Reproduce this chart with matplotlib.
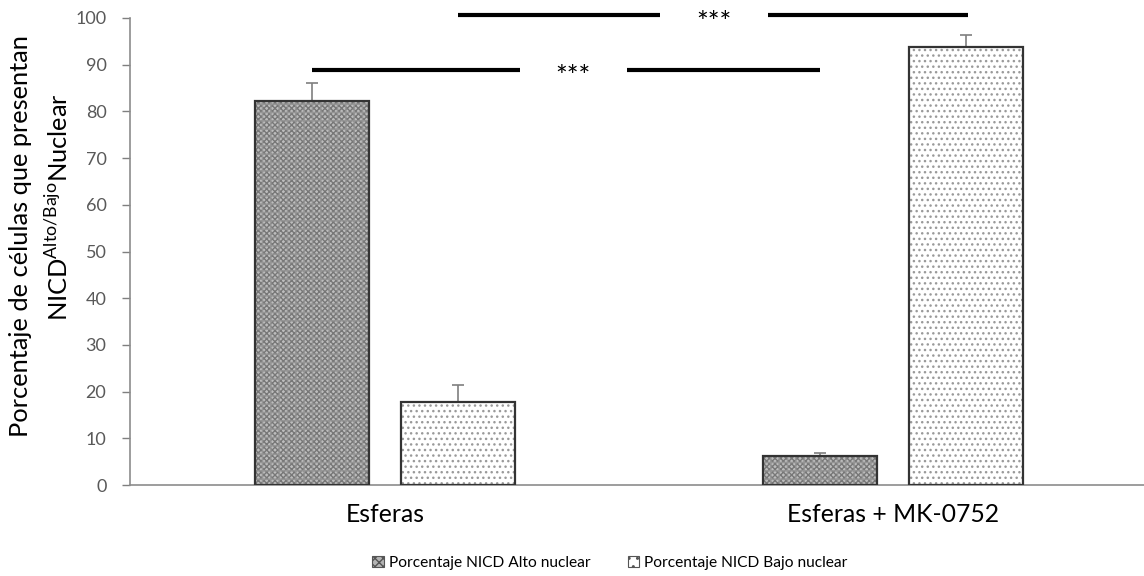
import matplotlib.pyplot as plt
from matplotlib.patches import Patch
import numpy as np

plt.rcParams['font.family'] = ['Lato', 'DejaVu Sans']
plt.rcParams['mathtext.fontset'] = 'custom'
plt.rcParams['mathtext.rm'] = 'Lato'
plt.rcParams['hatch.linewidth'] = 1.0

# Datos: porcentaje de células NICD alto / bajo nuclear
grupos = ["Esferas", "Esferas + MK-0752"]
alto = [82.3, 6.3]
alto_err = [3.7, 0.5]
bajo = [17.7, 93.7]
bajo_err = [3.8, 2.7]
series = ["Porcentaje NICD Alto nuclear", "Porcentaje NICD Bajo nuclear"]
y_ticks = [0, 10, 20, 30, 40, 50, 60, 70, 80, 90, 100]

fig = plt.figure(figsize=(11.44, 5.76), dpi=100)
ax = fig.add_axes([130 / 1144, 91 / 576, 1014 / 1144, 467 / 576])

x = np.arange(len(grupos))
w = 0.224
off = 0.143
grey = '#7f7f7f'

# barras "Alto": patrón de cuadros gris
ax.bar(x - off, alto, w, color='#bdbdbd', edgecolor='#777777', hatch='xxxxxx', lw=0, zorder=2)
ax.bar(x - off, alto, w, color='none', edgecolor='#959595', hatch='++', lw=0, zorder=2)
ax.bar(x - off, alto, w, color='none', edgecolor='#333333', lw=1.6, zorder=3)
# barras "Bajo": punteado
ax.bar(x + off, bajo, w, color='white', edgecolor='#9a9a9a', hatch='...', lw=0, zorder=2)
ax.bar(x + off, bajo, w, color='none', edgecolor='#333333', lw=1.6, zorder=3)

ax.errorbar(x - off, alto, yerr=[np.zeros(2), alto_err], fmt='none', ecolor=grey,
            elinewidth=1.2, capsize=4, capthick=1.2, zorder=1)
ax.errorbar(x + off, bajo, yerr=[np.zeros(2), bajo_err], fmt='none', ecolor=grey,
            elinewidth=1.2, capsize=4, capthick=1.2, zorder=1)

ax.set_xlim(-0.502, 1.494)
ax.set_ylim(0, 100)
ax.set_yticks(y_ticks)
ax.tick_params(axis='y', colors='#595959', labelsize=13, length=6, width=1,
               direction='out', pad=11)
ax.tick_params(axis='y', color=grey)
ax.set_xticks(x)
ax.set_xticklabels(grupos, fontsize=17.8, color='black')
ax.tick_params(axis='x', length=0, pad=13)
for s in ['top', 'right']:
    ax.spines[s].set_visible(False)
for s in ['left', 'bottom']:
    ax.spines[s].set_color('#8c8c8c')
    ax.spines[s].set_linewidth(1.2)

# líneas de significancia
def signif(x0, x1, xg0, xg1, y, xt):
    ax.plot([x0, xg0], [y, y], color='black', lw=3, clip_on=False, solid_capstyle='butt')
    ax.plot([xg1, x1], [y, y], color='black', lw=3, clip_on=False, solid_capstyle='butt')
    ax.text(xt, y - 1.8, '***', ha='center', va='center', fontsize=20, clip_on=False)

signif(-0.144, 0.856, 0.266, 0.476, 88.9, 0.370)
signif(0.144, 1.148, 0.541, 0.754, 100.6, 0.648)

# etiqueta del eje y en dos líneas
fig.text(21 / 1144, 1 - 236 / 576, "Porcentaje de células que presentan", rotation=90,
         ha='center', va='center', fontsize=18.3)
fig.text(58 / 1144, 1 - 207 / 576, r"NICD$^{\mathrm{Alto/Bajo}}$Nuclear", rotation=90,
         ha='center', va='center', fontsize=18.3)

handles = [Patch(facecolor='#b4b4b4', edgecolor='#555555', hatch='xxxx', lw=0.8),
           Patch(facecolor='white', edgecolor='#555555', hatch='..', lw=0.8)]
fig.legend(handles, series, loc='center', bbox_to_anchor=(610 / 1144, 13 / 576), ncol=2,
           frameon=False, fontsize=11.2, handlelength=0.75, handleheight=0.75,
           handletextpad=0.3, columnspacing=2.4)

fig.savefig('out.png', dpi=100)
